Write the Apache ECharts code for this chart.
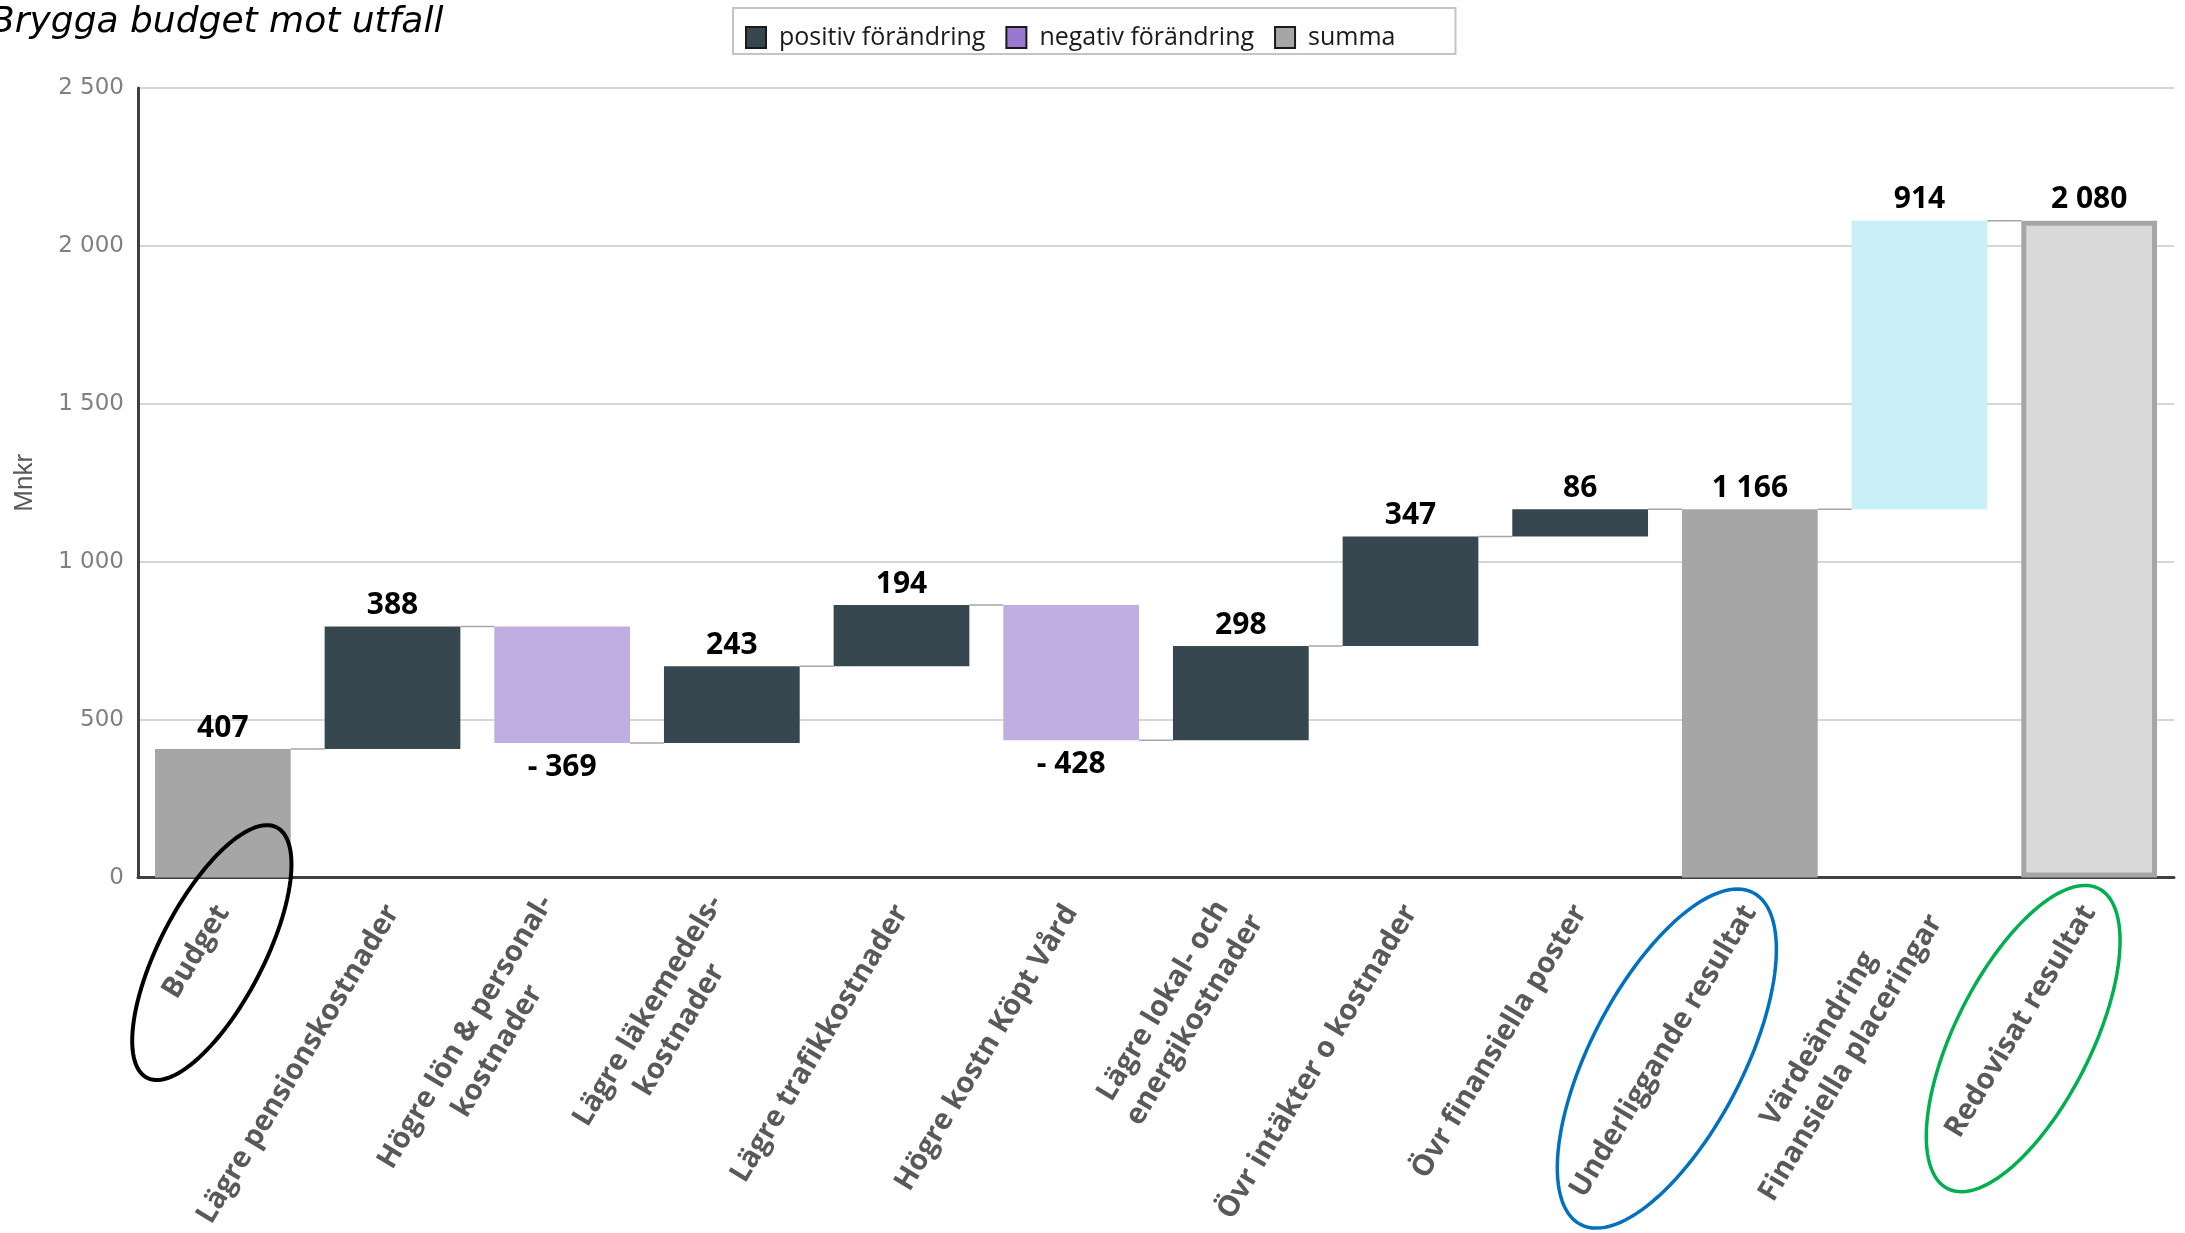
<!DOCTYPE html>
<html>
<head>
<meta charset="utf-8">
<script src="https://cdn.jsdelivr.net/npm/echarts@6/dist/echarts.min.js"></script>
<style>
html,body{margin:0;padding:0;background:#ffffff;}
#chart{width:2185px;height:1233px;}
</style>
</head>
<body>
<div id="chart"></div>
<script>
// ---------- data ----------
const categories = [
  'Budget',
  'Lägre pensionskostnader',
  'Högre lön & personal-\nkostnader',
  'Lägre läkemedels-\nkostnader',
  'Lägre trafikkostnader',
  'Högre kostn Köpt Vård',
  'Lägre lokal- och\nenergikostnader',
  'Övr intäkter o kostnader',
  'Övr finansiella poster',
  'Underliggande resultat',
  'Värdeändring\nFinansiella placeringar',
  'Redovisat resultat'
];
const values = [407, 388, -369, 243, 194, -428, 298, 347, 86, 1166, 914, 2080];
const kinds = ['summa', 'pos', 'neg', 'pos', 'pos', 'neg', 'pos', 'pos', 'pos', 'summa', 'valuation', 'total'];
const yTicks = [0, 500, 1000, 1500, 2000, 2500];
const legendNames = ['positiv förändring', 'negativ förändring', 'summa'];
const titleText = 'Brygga budget mot utfall';
const yName = 'Mnkr';

// ---------- derived waterfall geometry (values only) ----------
let run = 0;
const base = [], height = [], levels = [];
values.forEach((v, i) => {
  const k = kinds[i];
  if (k === 'summa' || k === 'total') { base.push(0); height.push(v); run = v; }
  else if (v >= 0) { base.push(run); height.push(v); run += v; }
  else { run += v; base.push(run); height.push(-v); }
  levels.push(run);
});
const pick = k => height.map((h, i) => kinds[i] === k ? h : '-');
const fmt = v => String(Math.round(v)).replace(/\B(?=(\d{3})+(?!\d))/g, ' ');
const signedFmt = p => {
  const v = values[p.dataIndex];
  return v < 0 ? '- ' + fmt(-v) : fmt(v);
};

// ---------- styles ----------
const C = {
  pos: '#36474f',
  neg: '#c0aee0',
  negLegend: '#9b78d0',
  summa: '#a6a6a6',
  valuation: '#c9eff7',
  total: '#d9d9d9',
  totalBorder: '#a6a6a6'
};
const BAR_W = 0.80;
const dataLabel = {
  show: true,
  fontFamily: 'Open Sans',
  fontWeight: 'bold',
  fontSize: 30,
  color: '#000000',
  formatter: signedFmt
};

const chart = echarts.init(document.getElementById('chart'));

const barSeries = (name, data, color, labelPos, extra) => Object.assign({
  name: name,
  type: 'bar',
  stack: 'w',
  barWidth: (BAR_W * 100) + '%',
  data: data,
  itemStyle: { color: color },
  emphasis: { disabled: true },
  label: Object.assign({}, dataLabel, { position: labelPos, distance: labelPos === 'bottom' ? 9 : 6 })
}, extra || {});

const option = {
  backgroundColor: '#ffffff',
  animation: false,
  title: {
    text: titleText,
    left: -10,
    top: 5,
    padding: 0,
    textStyle: {
      fontFamily: 'DejaVu Sans',
      fontStyle: 'italic',
      fontWeight: 'normal',
      fontSize: 36,
      color: '#000000'
    }
  },
  legend: {
    left: 733,
    top: 8,
    selectedMode: false,
    icon: 'rect',
    itemWidth: 20,
    itemHeight: 21,
    itemGap: 20,
    padding: [17, 60, 4, 12],
    borderColor: '#c4c4c4',
    borderWidth: 2,
    backgroundColor: '#ffffff',
    textStyle: { fontFamily: 'Open Sans', fontSize: 25, color: '#1a1a1a', padding: [0, 0, 0, 8] },
    data: [
      { name: legendNames[0], itemStyle: { color: C.pos, borderColor: '#1a1a1a', borderWidth: 2 } },
      { name: legendNames[1], itemStyle: { color: C.negLegend, borderColor: '#1a1a1a', borderWidth: 2 } },
      { name: legendNames[2], itemStyle: { color: C.summa, borderColor: '#1a1a1a', borderWidth: 2 } }
    ]
  },
  grid: { left: 138, right: 11, top: 88, bottom: 350, containLabel: false },
  xAxis: {
    type: 'category',
    data: categories,
    axisTick: { show: false },
    axisLine: { lineStyle: { color: '#404040', width: 3 } },
    splitLine: { show: false },
    axisLabel: {
      interval: 0,
      rotate: 59,
      margin: 30,
      fontFamily: 'Open Sans',
      fontWeight: 'bold',
      fontSize: 29,
      lineHeight: 37,
      color: '#595959',
      formatter: v => v.split('\n').map(s => '{c|' + s + '}').join('\n'),
      rich: {
        c: {
          align: 'center',
          fontFamily: 'Open Sans',
          fontWeight: 'bold',
          fontSize: 29,
          lineHeight: 37,
          color: '#595959'
        }
      }
    }
  },
  yAxis: {
    type: 'value',
    min: yTicks[0],
    max: yTicks[yTicks.length - 1],
    interval: yTicks[1] - yTicks[0],
    name: yName,
    nameLocation: 'middle',
    nameGap: 100,
    nameTextStyle: { fontFamily: 'Liberation Sans', fontSize: 26, color: '#595959' },
    axisLine: { show: true, lineStyle: { color: '#404040', width: 3 } },
    axisTick: { show: false },
    splitLine: { lineStyle: { color: '#d6d6d6', width: 2 } },
    axisLabel: {
      margin: 14,
      fontFamily: 'DejaVu Sans',
      fontSize: 23,
      color: '#808080',
      formatter: v => fmt(v)
    }
  },
  series: [
    {
      name: 'base',
      type: 'bar',
      stack: 'w',
      barWidth: (BAR_W * 100) + '%',
      data: base,
      silent: true,
      itemStyle: { color: 'rgba(0,0,0,0)' },
      emphasis: { disabled: true },
      label: { show: false }
    },
    barSeries(legendNames[0], pick('pos'), C.pos, 'top'),
    barSeries(legendNames[1], pick('neg'), C.neg, 'bottom'),
    barSeries(legendNames[2], pick('summa'), C.summa, 'top'),
    barSeries('Värdeändring', pick('valuation'), C.valuation, 'top'),
    barSeries('Redovisat resultat', pick('total'), C.total, 'top', {
      itemStyle: { color: C.total, borderColor: C.totalBorder, borderWidth: 5 }
    }),
    {
      name: 'connectors',
      type: 'custom',
      silent: true,
      z: 3,
      data: levels.slice(0, levels.length - 1).map((l, i) => [i, l]),
      encode: { x: 0, y: 1 },
      renderItem: function (params, api) {
        const i = api.value(0), l = api.value(1);
        const p1 = api.coord([i, l]);
        const p2 = api.coord([i + 1, l]);
        const half = api.size([1, 0])[0] * BAR_W / 2;
        return {
          type: 'line',
          shape: { x1: p1[0] + half, y1: p1[1], x2: p2[0] - half, y2: p1[1] },
          style: { stroke: '#a6a6a6', lineWidth: 1.5 }
        };
      }
    }
  ]
};

chart.setOption(option);

// ---------- hand-drawn style annotation ellipses, anchored on category ticks ----------
const annotations = [
  { index: 0, dx: -11, dy: 75, a: 141, b: 52, angle: 62.6, color: '#000000', width: 4 },
  { index: 9, dx: -83, dy: 181, a: 187, b: 76, angle: 62.5, color: '#0070c0', width: 3.5 },
  { index: 11, dx: -66, dy: 161, a: 168, b: 68, angle: 63.3, color: '#00b050', width: 3.5 }
];
function ellipsePts(cx, cy, a, b, deg) {
  const t = deg * Math.PI / 180, pts = [];
  for (let k = 0; k <= 120; k++) {
    const u = k / 120 * 2 * Math.PI;
    const x = a * Math.cos(u), y = b * Math.sin(u);
    pts.push([cx + x * Math.cos(t) + y * Math.sin(t), cy - x * Math.sin(t) + y * Math.cos(t)]);
  }
  return pts;
}
const y0 = chart.convertToPixel({ yAxisIndex: 0 }, 0);
chart.setOption({
  graphic: annotations.map(an => {
    const cx = chart.convertToPixel({ xAxisIndex: 0 }, categories[an.index]) + an.dx;
    const cy = y0 + an.dy;
    return {
      type: 'polyline',
      silent: true,
      z: 100,
      shape: { points: ellipsePts(cx, cy, an.a, an.b, an.angle) },
      style: { stroke: an.color, lineWidth: an.width, fill: null }
    };
  })
});
</script>
</body>
</html>
